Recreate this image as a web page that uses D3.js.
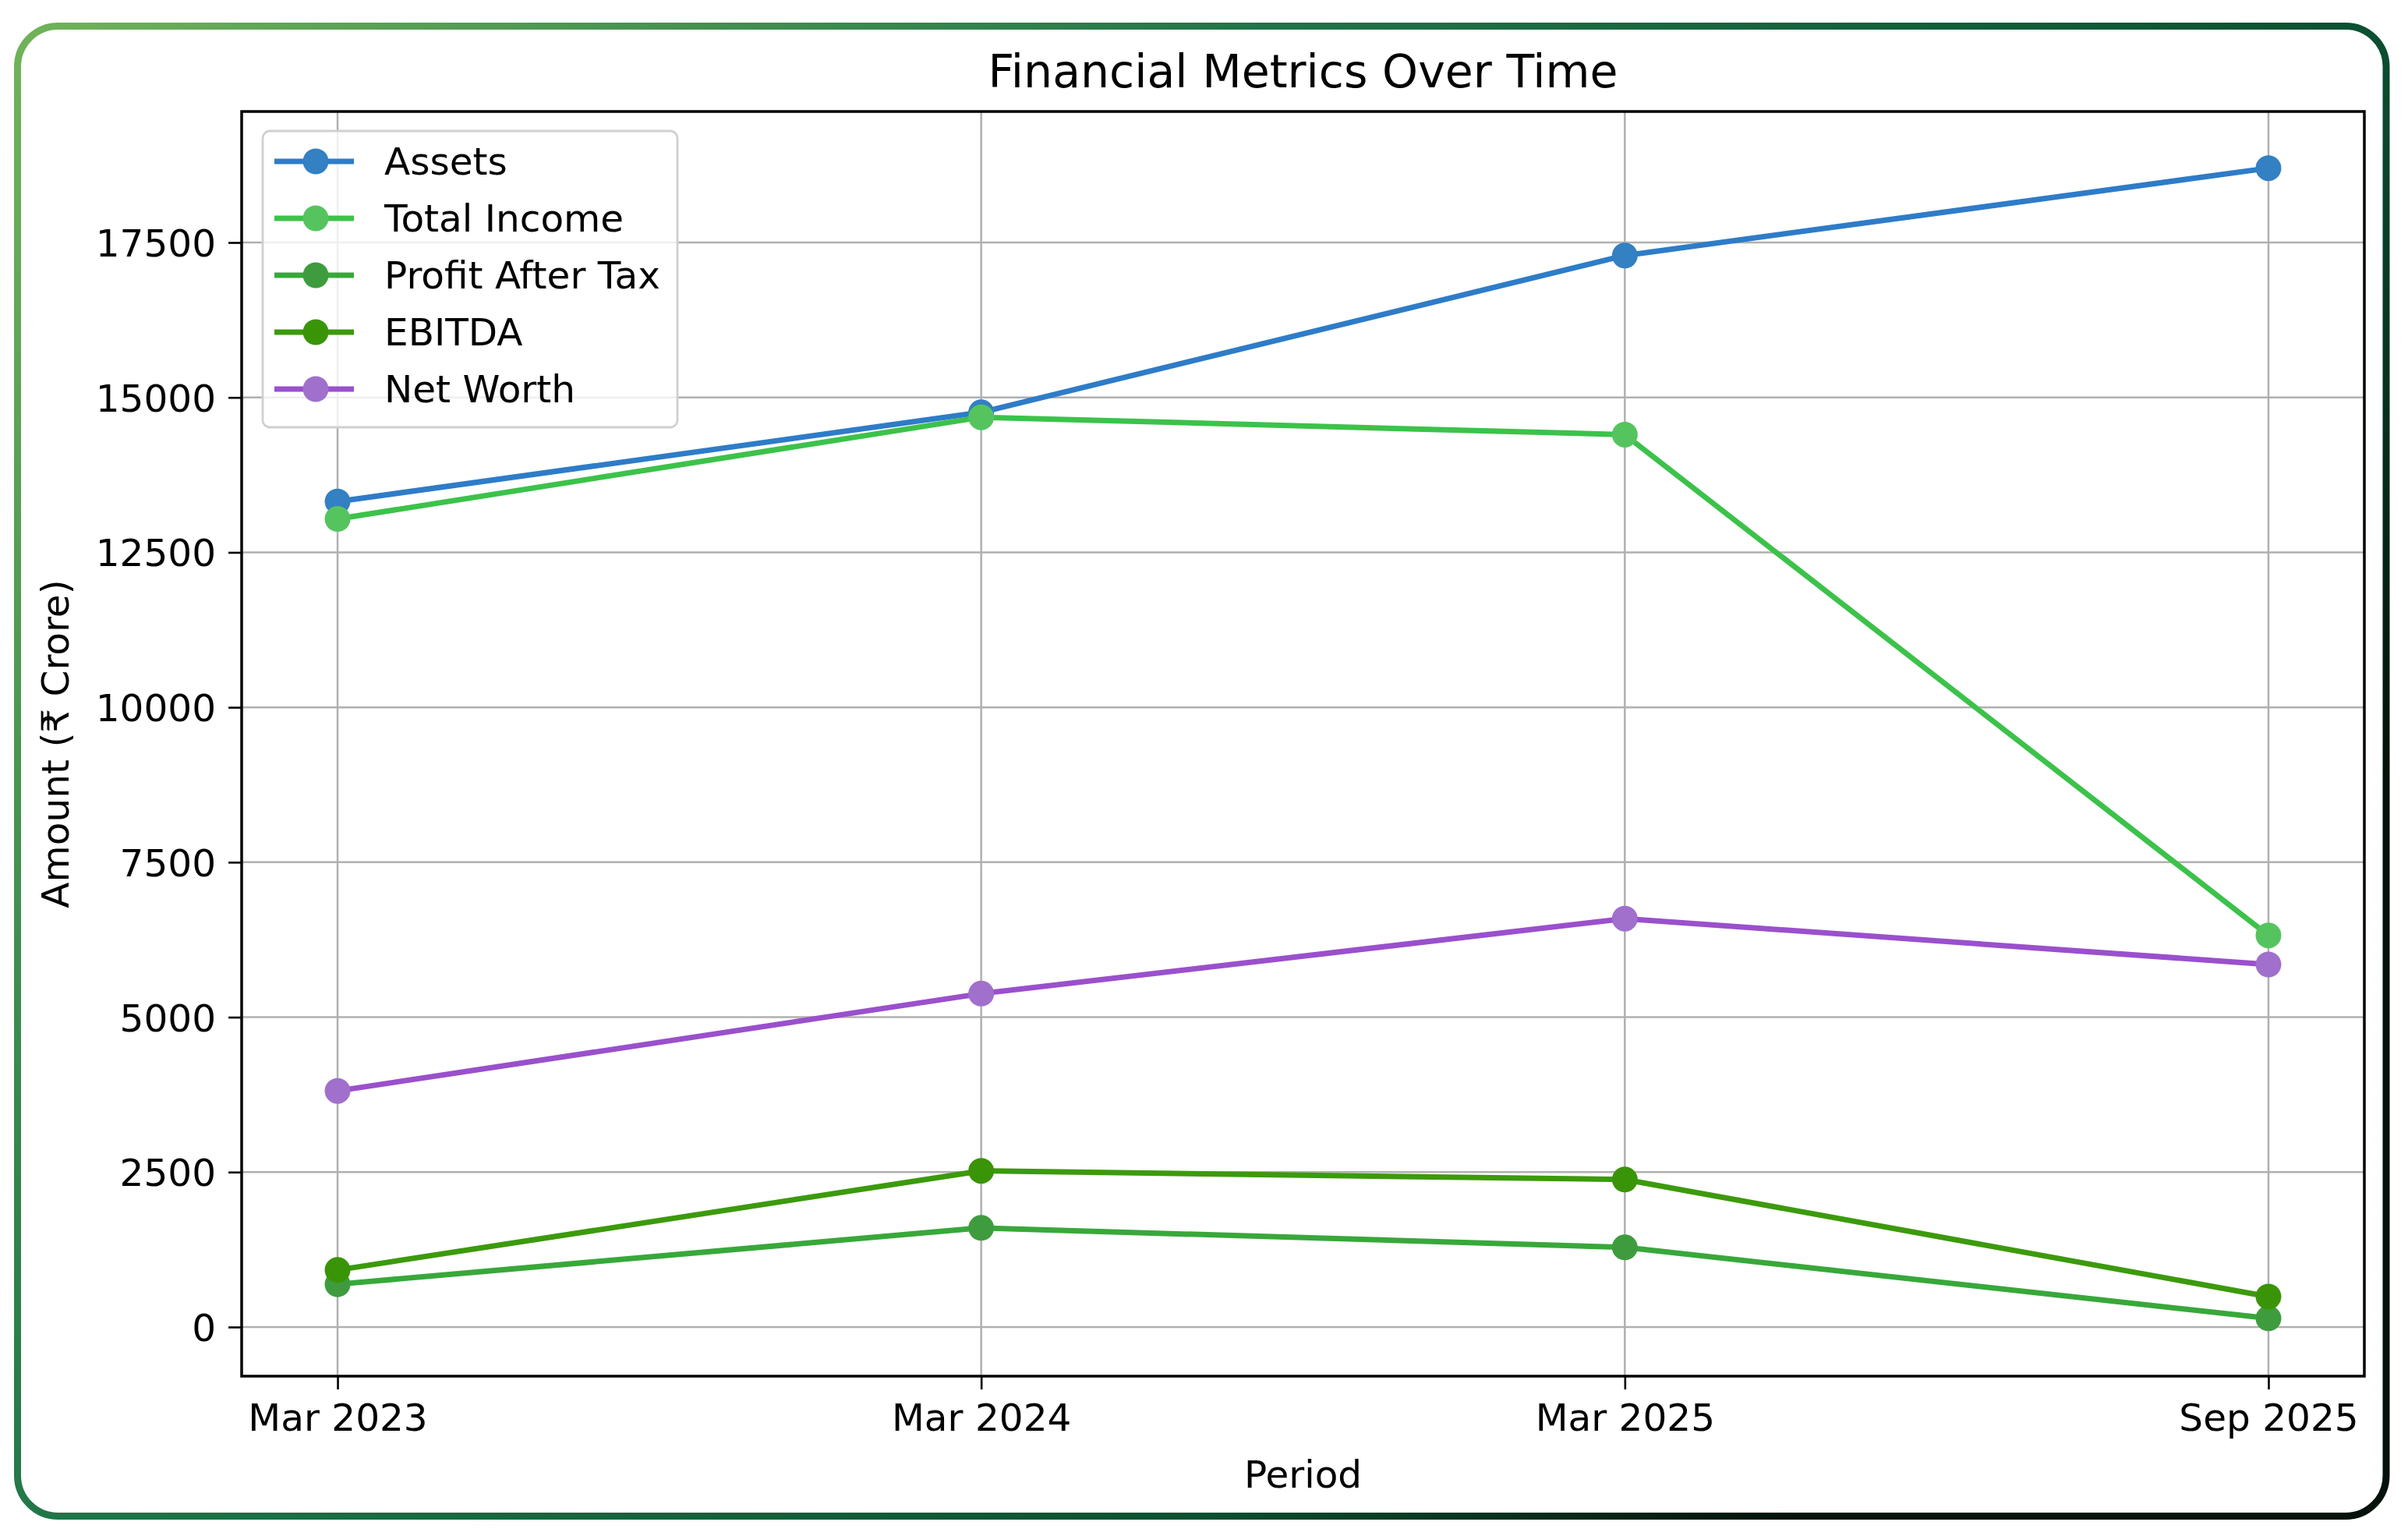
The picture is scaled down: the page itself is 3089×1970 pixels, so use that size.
<!DOCTYPE html>
<html>
<head>
<meta charset="utf-8">
<script src="https://cdn.jsdelivr.net/npm/d3@7"></script>
<style>
  html, body { margin: 0; padding: 0; background: #ffffff; }
  svg { display: block; }
  text { font-family: "DejaVu Sans", sans-serif; fill: #000; }
</style>
</head>
<body>
<svg id="chart" width="3089" height="1970"></svg>
<script>
// ---- data ----
const periods = ["Mar 2023", "Mar 2024", "Mar 2025", "Sep 2025"];
const assets = [13320, 14760, 17290, 18700];
const totalIncome = [13040, 14680, 14400, 6320];
const profitAfterTax = [690, 1600, 1285, 140];
const ebitda = [920, 2520, 2380, 490];
const netWorth = [3810, 5380, 6590, 5850];
const seriesNames = ["Assets", "Total Income", "Profit After Tax", "EBITDA", "Net Worth"];
const yTicks = [0, 2500, 5000, 7500, 10000, 12500, 15000, 17500];
const titleText = "Financial Metrics Over Time";
const xLabel = "Period";
const yLabel = "Amount (₹ Crore)";

const seriesValues = [assets, totalIncome, profitAfterTax, ebitda, netWorth];
const lineColors = ["#2e7cc8", "#3cc24a", "#38a83a", "#3c9a0c", "#9a50cc"];
const markerColors = ["#3380c2", "#55c45f", "#3e9c3e", "#3a9408", "#a070cc"];

// ---- layout ----
const W = 3089, H = 1970;
const plot = { left: 310, right: 3033, top: 143, bottom: 1765 };

const svg = d3.select("#chart");

// outer rounded border with gradient
const defs = svg.append("defs");
const grad = defs.append("linearGradient").attr("id", "borderGrad")
  .attr("x1", "0").attr("y1", "0").attr("x2", "1").attr("y2", "0.5");
grad.append("stop").attr("offset", "0").attr("stop-color", "#70b35a");
grad.append("stop").attr("offset", "0.42").attr("stop-color", "#1f7448");
grad.append("stop").attr("offset", "0.8").attr("stop-color", "#0b5030");
grad.append("stop").attr("offset", "1").attr("stop-color", "#03120a");

svg.append("rect")
  .attr("x", 22.5).attr("y", 33.5)
  .attr("width", 3061 - 22.5).attr("height", 1944.5 - 33.5)
  .attr("rx", 52).attr("ry", 52)
  .attr("fill", "#ffffff")
  .attr("stroke", "url(#borderGrad)")
  .attr("stroke-width", 9);

// ---- scales ----
const x = d3.scalePoint().domain(periods)
  .range([plot.left, plot.right]).padding(0.149);
const yMin = -793, yMax = 19614;
const y = d3.scaleLinear().domain([yMin, yMax]).range([plot.bottom, plot.top]);

const g = svg.append("g");

// grid
g.append("g").selectAll("line.hg").data(yTicks).join("line")
  .attr("x1", plot.left).attr("x2", plot.right)
  .attr("y1", d => y(d)).attr("y2", d => y(d))
  .attr("stroke", "#b0b0b0").attr("stroke-width", 2.5);
g.append("g").selectAll("line.vg").data(periods).join("line")
  .attr("y1", plot.top).attr("y2", plot.bottom)
  .attr("x1", d => x(d)).attr("x2", d => x(d))
  .attr("stroke", "#b0b0b0").attr("stroke-width", 2.5);

// axes
const fontSize = 48.5;
const xAxis = d3.axisBottom(x).tickSize(17).tickPadding(16);
const yAxis = d3.axisLeft(y).tickValues(yTicks).tickFormat(d3.format("d")).tickSize(17).tickPadding(16);

const gx = g.append("g").attr("transform", `translate(0,${plot.bottom})`).call(xAxis);
const gy = g.append("g").attr("transform", `translate(${plot.left},0)`).call(yAxis);
[gx, gy].forEach(a => {
  a.select(".domain").remove();
  a.selectAll(".tick line").attr("stroke", "#000").attr("stroke-width", 2.6);
  a.selectAll(".tick text").attr("font-size", fontSize)
    .attr("font-family", "DejaVu Sans, sans-serif").attr("fill", "#000");
});
gx.selectAll(".tick text").attr("dy", "0.76em");
gy.selectAll(".tick text").attr("dy", "0.36em");

// series
const line = d3.line().x((d, i) => x(periods[i])).y(d => y(d));
seriesValues.forEach((vals, si) => {
  const sg = g.append("g");
  sg.append("path").datum(vals)
    .attr("d", line).attr("fill", "none")
    .attr("stroke", lineColors[si]).attr("stroke-width", 7)
    .attr("stroke-linejoin", "round").attr("stroke-linecap", "butt");
  sg.selectAll("circle").data(vals).join("circle")
    .attr("cx", (d, i) => x(periods[i])).attr("cy", d => y(d))
    .attr("r", 16.5).attr("fill", markerColors[si]);
});

// spines
g.append("rect")
  .attr("x", plot.left).attr("y", plot.top)
  .attr("width", plot.right - plot.left).attr("height", plot.bottom - plot.top)
  .attr("fill", "none").attr("stroke", "#000").attr("stroke-width", 3.5);

// legend
const leg = g.append("g");
leg.append("rect")
  .attr("x", 337).attr("y", 168).attr("width", 532).attr("height", 380)
  .attr("rx", 9).attr("ry", 9)
  .attr("fill", "#ffffff").attr("fill-opacity", 0.8)
  .attr("stroke", "#d0d0d0").attr("stroke-width", 2.8);
const rowY = d => 207 + d * 73;
seriesNames.forEach((name, i) => {
  const r = leg.append("g");
  r.append("line").attr("x1", 352).attr("x2", 454)
    .attr("y1", rowY(i)).attr("y2", rowY(i))
    .attr("stroke", lineColors[i]).attr("stroke-width", 7);
  r.append("circle").attr("cx", 405).attr("cy", rowY(i)).attr("r", 16.5)
    .attr("fill", markerColors[i]);
  r.append("text").attr("x", 493).attr("y", rowY(i)).attr("dy", "0.36em")
    .attr("font-size", fontSize).text(name);
});

// title and labels
svg.append("text").attr("x", (plot.left + plot.right) / 2).attr("y", 112)
  .attr("text-anchor", "middle").attr("font-size", 58.5).text(titleText);
svg.append("text").attr("x", (plot.left + plot.right) / 2).attr("y", 1908)
  .attr("text-anchor", "middle").attr("font-size", fontSize).text(xLabel);
svg.append("text")
  .attr("transform", `translate(88,${(plot.top + plot.bottom) / 2}) rotate(-90)`)
  .attr("text-anchor", "middle").attr("font-size", fontSize).text(yLabel);
</script>
</body>
</html>
